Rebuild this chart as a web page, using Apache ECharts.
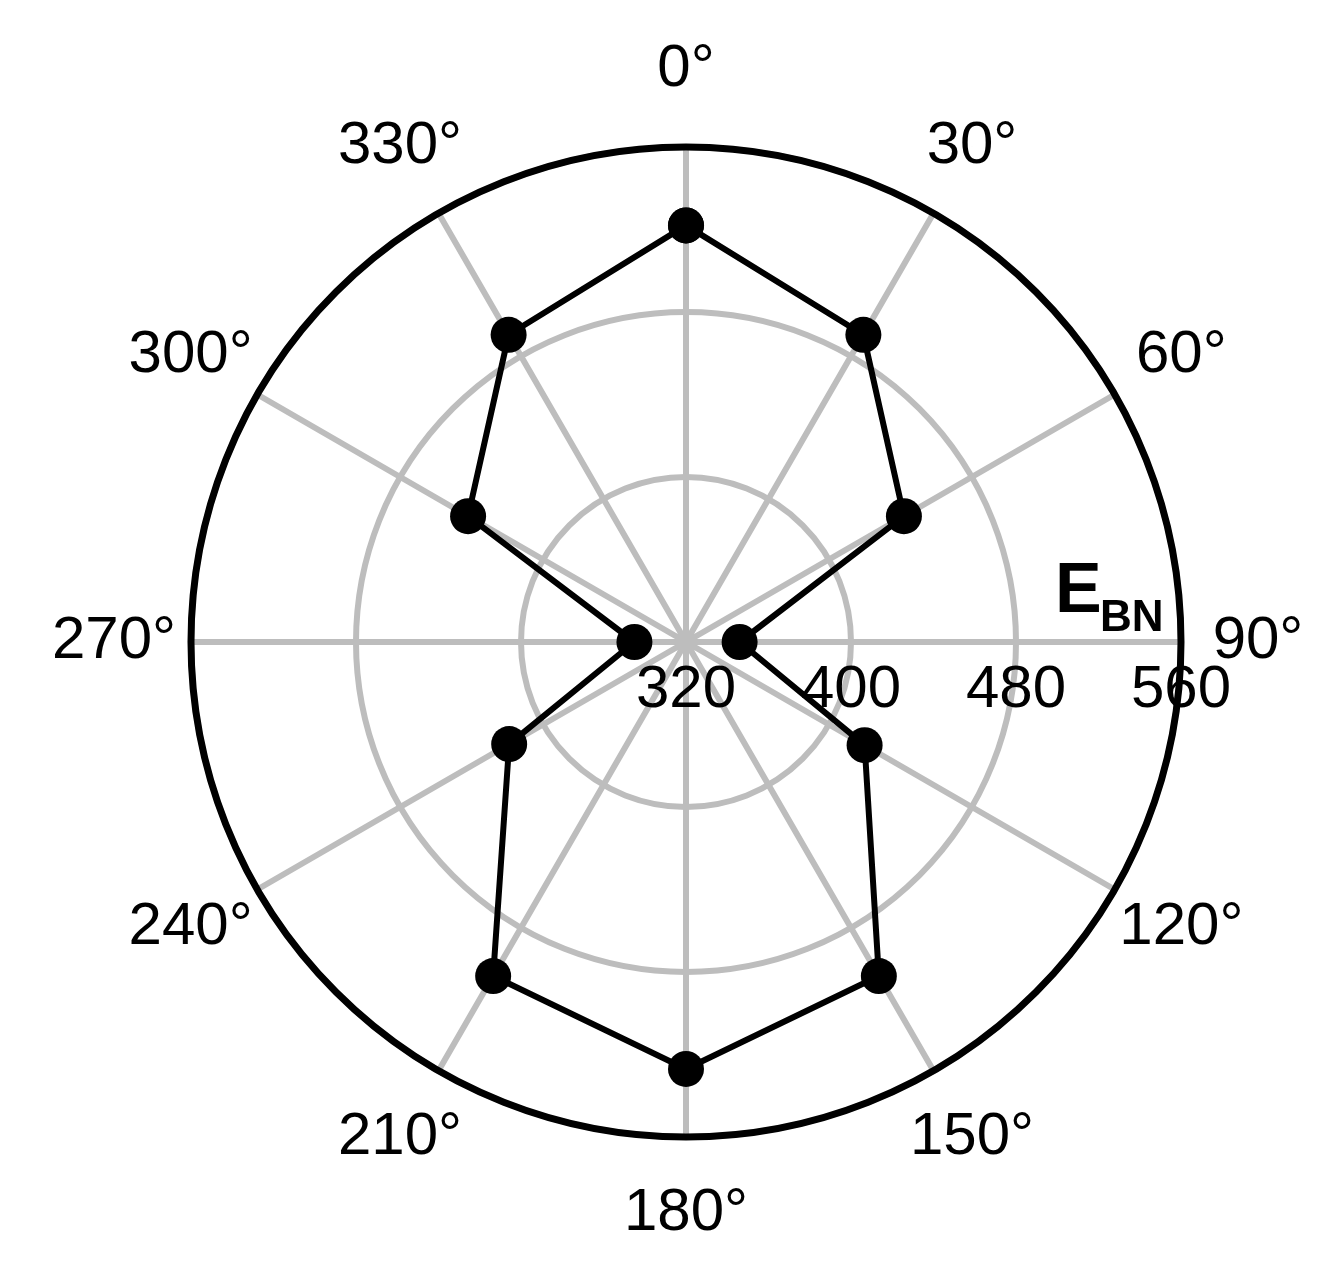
<!DOCTYPE html>
<html>
<head>
<meta charset="utf-8">
<script src="https://cdn.jsdelivr.net/npm/echarts@6/dist/echarts.min.js"></script>
<style>
  html, body { margin: 0; padding: 0; background: #ffffff; }
  #chart { width: 1329px; height: 1273px; }
</style>
</head>
<body>
<div id="chart"></div>
<script>
// ---- data ----
const angles = [0, 30, 60, 90, 120, 150, 180, 210, 240, 270, 300, 330];
const ebnValues = [522, 492, 442, 346, 420, 507, 527, 507, 419, 345, 442, 492];
const angleTickLabels = [0, 30, 60, 90, 120, 150, 180, 210, 240, 270, 300, 330];
const radialMin = 320;
const radialMax = 560;
const radialStep = 80;
const axisTitleMain = 'E';
const axisTitleSub = 'BN';

// ---- build ----
const FONT = '"Liberation Sans Narrow", "Arial Narrow", "Liberation Sans", Arial, sans-serif';
const linePoints = angles.map((a, i) => [ebnValues[i], a]);
linePoints.push([ebnValues[0], 360]);
const labelPoints = angleTickLabels.map(a => [1, a]);

const CX = 686, CY = 642, R = 495;

const chart = echarts.init(document.getElementById('chart'), null, { renderer: 'canvas' });
chart.setOption({
  backgroundColor: '#ffffff',
  animation: false,
  polar: [
    { center: [CX, CY], radius: R },
    { center: [CX, CY], radius: R },
    { center: [CX, CY], radius: 572 }
  ],
  angleAxis: [
    {
      polarIndex: 0, type: 'value', min: 0, max: 360, interval: 30,
      startAngle: 90, clockwise: true,
      axisLine: { show: false }, axisTick: { show: false }, axisLabel: { show: false },
      splitLine: { show: true, lineStyle: { color: '#bdbdbd', width: 6 } }
    },
    {
      polarIndex: 1, type: 'value', min: 0, max: 360, interval: 30,
      startAngle: 0, clockwise: true, z: 3,
      axisLine: { show: true, lineStyle: { color: '#000000', width: 7 } },
      axisTick: { show: false }, axisLabel: { show: false }, splitLine: { show: false }
    },
    {
      polarIndex: 2, type: 'value', min: 0, max: 360, interval: 30,
      startAngle: 90, clockwise: true,
      axisLine: { show: false }, axisTick: { show: false }, axisLabel: { show: false }, splitLine: { show: false }
    }
  ],
  radiusAxis: [
    {
      polarIndex: 0, type: 'value', min: radialMin, max: radialMax, interval: radialStep,
      axisLine: { show: false }, axisTick: { show: false }, axisLabel: { show: false },
      splitLine: { show: true, lineStyle: { color: '#bdbdbd', width: 6 } }
    },
    {
      polarIndex: 1, type: 'value', min: radialMin, max: radialMax, interval: radialStep,
      z: 4,
      axisLine: { show: false }, axisTick: { show: false }, splitLine: { show: false },
      axisLabel: {
        show: true, margin: -48, verticalAlign: 'middle', align: 'center',
        color: '#000000', fontSize: 60, fontFamily: FONT,
        showMinLabel: true, showMaxLabel: true, hideOverlap: false
      }
    },
    {
      polarIndex: 2, type: 'value', min: 0, max: 1,
      axisLine: { show: false }, axisTick: { show: false }, axisLabel: { show: false }, splitLine: { show: false }
    }
  ],
  series: [
    {
      type: 'line', coordinateSystem: 'polar', polarIndex: 0,
      data: linePoints,
      symbol: 'circle', symbolSize: 36, showSymbol: true,
      itemStyle: { color: '#000000' },
      lineStyle: { color: '#000000', width: 6 },
      z: 5
    },
    {
      type: 'scatter', coordinateSystem: 'polar', polarIndex: 2,
      data: labelPoints, clip: false,
      symbolSize: 0.1, itemStyle: { color: '#000000', opacity: 1 },
      silent: true,
      label: {
        show: true, position: 'top', distance: 0,
        formatter: p => '{a|' + p.value[1] + '°}',
        color: '#000000', fontSize: 60, fontFamily: FONT,
        textBorderWidth: 0,
        align: 'center', verticalAlign: 'middle',
        rich: { a: { color: '#000000', fontSize: 60, fontFamily: FONT } }
      }
    }
  ],
  graphic: [
    {
      type: 'text', left: 1055, top: 558, z: 10,
      style: { text: axisTitleMain, font: 'bold 70px "Liberation Sans", Arial, sans-serif', fill: '#000000' }
    },
    {
      type: 'text', left: 1100, top: 597, z: 10,
      style: { text: axisTitleSub, font: 'bold 44px "Liberation Sans", Arial, sans-serif', fill: '#000000' }
    }
  ]
});
</script>
</body>
</html>
